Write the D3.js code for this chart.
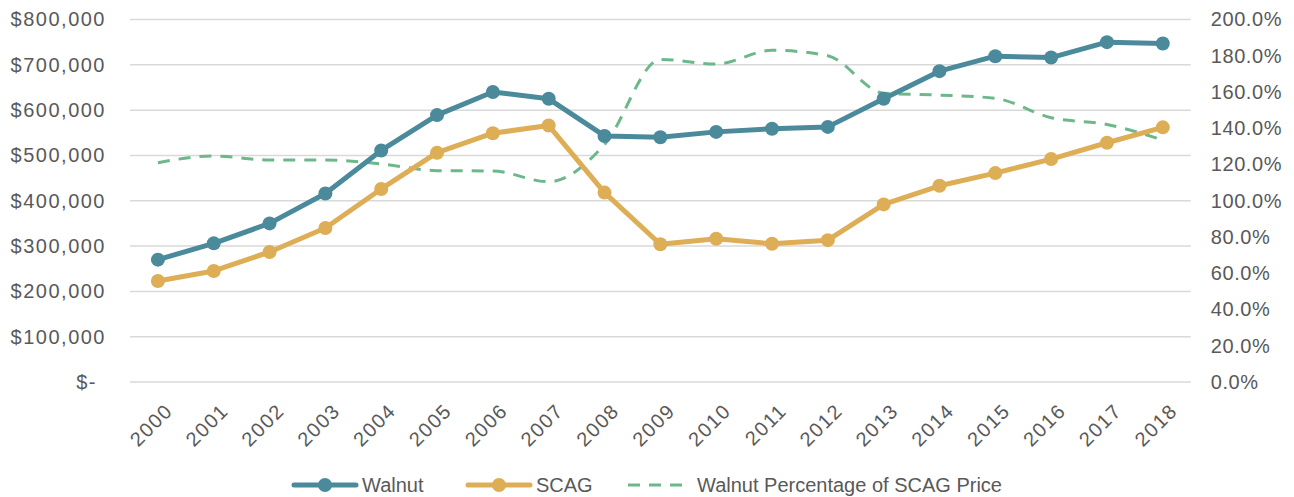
<!DOCTYPE html>
<html><head><meta charset="utf-8">
<script src="https://cdn.jsdelivr.net/npm/d3@7"></script>
<style>body{margin:0;background:#fff}svg{display:block}</style>
</head><body>
<svg id="c" width="1294" height="497"></svg>
<script>
const years = ["2000","2001","2002","2003","2004","2005","2006","2007","2008","2009","2010","2011","2012","2013","2014","2015","2016","2017","2018"];
const walnut = [270000,306000,350000,416000,511000,589000,640000,625000,543000,540000,552000,559000,563000,625000,686000,719000,716000,750000,747000];
const scag = [223000,245000,287000,340000,426000,506000,549000,566000,418000,304000,316000,305000,313000,392000,433000,461000,492000,528000,562000];
const pct = [1.21,1.247,1.225,1.225,1.203,1.166,1.164,1.105,1.31,1.78,1.754,1.83,1.80,1.593,1.583,1.565,1.458,1.421,1.335];
const leftTicks = [0,100000,200000,300000,400000,500000,600000,700000,800000];
const rightTicks = [0,0.2,0.4,0.6,0.8,1.0,1.2,1.4,1.6,1.8,2.0];
const seriesNames = ["Walnut","SCAG","Walnut Percentage of SCAG Price"];

(function(){
const colors = {walnut:"#4a8a9b", scag:"#ddae55", pct:"#6db88b", grid:"#d9d9d9", text:"#595959"};
const font = "'Liberation Sans', Arial, sans-serif";
const svg = d3.select("#c");
const pL = 130, pR = 1190.7, pT = 19.5, pB = 382;

const x = d3.scaleBand().domain(years).range([pL, pR]);
const yL = d3.scaleLinear().domain([0,800000]).range([pB, pT]);
const yR = d3.scaleLinear().domain([0,2]).range([pB, pT]);
const cx = d => x(d) + x.bandwidth()/2;

svg.append("g").selectAll("line").data(leftTicks).join("line")
  .attr("x1", pL).attr("x2", pR)
  .attr("y1", d=>yL(d)).attr("y2", d=>yL(d))
  .attr("stroke", colors.grid).attr("stroke-width", 1.5);

const fmtL = d => d===0 ? "$-" : "$" + d3.format(",")(d);
const gL = svg.append("g").attr("transform", `translate(${pL},0)`)
  .call(d3.axisLeft(yL).tickValues(leftTicks).tickFormat(fmtL).tickSize(0).tickPadding(24));
gL.select(".domain").remove();
gL.selectAll("text").attr("font-family", font).attr("font-size", 20).attr("fill", colors.text)
  .attr("letter-spacing", "1.5px")
  .attr("dx", d => d===0 ? -9 : 0);

const gR = svg.append("g").attr("transform", `translate(${pR},0)`)
  .call(d3.axisRight(yR).tickValues(rightTicks).tickFormat(d3.format(".1%")).tickSize(0).tickPadding(20));
gR.select(".domain").remove();
gR.selectAll("text").attr("font-family", font).attr("font-size", 20).attr("fill", colors.text)
  .attr("letter-spacing", "0.6px");

const gX = svg.append("g").attr("transform", `translate(0,${pB})`)
  .call(d3.axisBottom(x).tickSize(0).tickPadding(0));
gX.select(".domain").remove();
gX.selectAll("text").attr("font-family", font).attr("font-size", 20).attr("fill", colors.text)
  .attr("letter-spacing", "1.5px")
  .attr("text-anchor","end").attr("dy", 0)
  .attr("transform", "translate(16,30) rotate(-45)");

const linePct = d3.line().x((d,i)=>cx(years[i])).y(d=>yR(d)).curve(d3.curveMonotoneX);
svg.append("path").datum(pct).attr("d", linePct).attr("fill","none")
  .attr("stroke", colors.pct).attr("stroke-width", 3).attr("stroke-dasharray","12,9");

function series(data, color){
  const line = d3.line().x((d,i)=>cx(years[i])).y(d=>yL(d));
  svg.append("path").datum(data).attr("d", line).attr("fill","none")
    .attr("stroke", color).attr("stroke-width", 5).attr("stroke-linejoin","round");
  svg.append("g").selectAll("circle").data(data).join("circle")
    .attr("cx",(d,i)=>cx(years[i])).attr("cy", d=>yL(d)).attr("r", 7).attr("fill", color);
}
series(scag, colors.scag);
series(walnut, colors.walnut);

const ly = 485;
const leg = [
  {x1:294,x2:356,tx:362,color:colors.walnut,dash:null,marker:true},
  {x1:468,x2:530,tx:536,color:colors.scag,dash:null,marker:true},
  {x1:628,x2:690,tx:697,color:colors.pct,dash:"12,9",marker:false}
];
leg.forEach((l,i)=>{
  const g = svg.append("g");
  g.append("line").attr("x1",l.x1).attr("x2",l.x2).attr("y1",ly).attr("y2",ly)
    .attr("stroke",l.color).attr("stroke-width", l.marker?5:3).attr("stroke-dasharray",l.dash)
    .attr("stroke-linecap", l.marker ? "round" : null);
  if(l.marker) g.append("circle").attr("cx",(l.x1+l.x2)/2).attr("cy",ly).attr("r",7).attr("fill",l.color);
  g.append("text").attr("x",l.tx).attr("y",ly).attr("dy","0.35em").text(seriesNames[i])
    .attr("font-family", font).attr("font-size", 20).attr("fill", colors.text);
});
})();
</script>
</body></html>
